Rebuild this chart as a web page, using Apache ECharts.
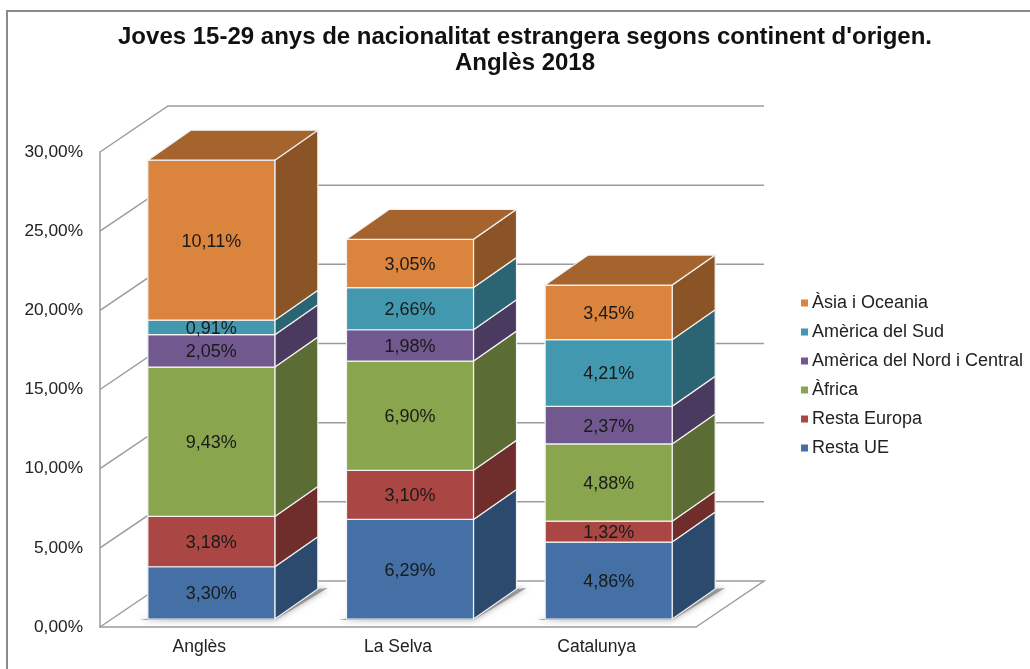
<!DOCTYPE html>
<html><head><meta charset="utf-8">
<style>html,body{margin:0;padding:0;background:#fff}#c{width:1030px;height:669px}</style>
<script src="https://cdn.jsdelivr.net/npm/echarts@6/dist/echarts.min.js"></script>
</head><body><div id="c"></div>
<script>
const categories = ['Anglès', 'La Selva', 'Catalunya'];
const seriesNames = ['Resta UE', 'Resta Europa', 'Àfrica', 'Amèrica del Nord i Central', 'Amèrica del Sud', 'Àsia i Oceania'];
const restaUE = [3.30, 6.29, 4.86];
const restaEuropa = [3.18, 3.10, 1.32];
const africa = [9.43, 6.90, 4.88];
const americaNord = [2.05, 1.98, 2.37];
const americaSud = [0.91, 2.66, 4.21];
const asiaOceania = [10.11, 3.05, 3.45];
const yTicks = [0, 5, 10, 15, 20, 25, 30];
const allValues = [restaUE, restaEuropa, africa, americaNord, americaSud, asiaOceania];

const frontColors = ['#4470A5', '#AA4643', '#89A54E', '#71588F', '#4198AF', '#DB843D'];
const sideColors = ['#2B4A6E', '#6F2E2C', '#5B6D34', '#4B3A5F', '#2B6574', '#8B5426'];
const topColor = '#A5632E';
const FONT = '"Liberation Sans", Arial, sans-serif';
const pct = v => v.toFixed(2).replace('.', ',') + '%';

// 3D projection constants (screen px)
const WALL_DX = 68, WALL_DY = -46;
const BAR_DX = 43, BAR_DY = -30;
const BAR_W = 127, BAR_SHIFT_X = 12, BAR_SHIFT_Y = -8;

function renderWall(params, api) {
  const cs = params.coordSys;
  const v = api.value(0);
  const y = api.coord([0, v])[1];
  const x0 = cs.x, x1 = cs.x + cs.width;
  const pts = [[x0, y], [x0 + WALL_DX, y + WALL_DY], [x1 + WALL_DX, y + WALL_DY]];
  if (v === 0) pts.push([x1, y]);
  return { type: 'polyline', shape: { points: pts }, style: { stroke: '#9C9C9C', lineWidth: 1.5, fill: null }, silent: true };
}

function renderShadow(params, api) {
  const i = api.value(0);
  const cx = api.coord([i, 0]);
  const x0 = cx[0] + BAR_SHIFT_X - BAR_W / 2, x1 = x0 + BAR_W, y0 = cx[1] + BAR_SHIFT_Y;
  return { type: 'polygon', shape: { points: [[x0 - 8, y0 + 1], [x1, y0 + 1], [x1 + BAR_DX + 10, y0 + BAR_DY - 1], [x1 + BAR_DX, y0 + BAR_DY]] },
    style: { fill: 'rgba(130,130,130,0.75)', shadowBlur: 6, shadowColor: 'rgba(110,110,110,0.8)' }, silent: true };
}

function makeRender(s) {
  return function (params, api) {
    const i = api.value(0), start = api.value(1), end = api.value(2);
    const cx = api.coord([i, 0])[0];
    const x0 = cx + BAR_SHIFT_X - BAR_W / 2, x1 = x0 + BAR_W;
    const yb = api.coord([i, start])[1] + BAR_SHIFT_Y;
    const yt = api.coord([i, end])[1] + BAR_SHIFT_Y;
    const edge = { stroke: '#F2F2F2', lineWidth: 1.2 };
    const children = [
      { type: 'polygon', shape: { points: [[x1, yb], [x1 + BAR_DX, yb + BAR_DY], [x1 + BAR_DX, yt + BAR_DY], [x1, yt]] },
        style: Object.assign({ fill: sideColors[s] }, edge) },
      { type: 'rect', shape: { x: x0, y: yt, width: BAR_W, height: yb - yt },
        style: Object.assign({ fill: frontColors[s] }, edge) }
    ];
    if (s === allValues.length - 1) {
      children.push({ type: 'polygon', shape: { points: [[x0, yt], [x1, yt], [x1 + BAR_DX, yt + BAR_DY], [x0 + BAR_DX, yt + BAR_DY]] },
        style: Object.assign({ fill: topColor }, edge) });
    }
    children.push({ type: 'text', x: (x0 + x1) / 2, y: (yt + yb) / 2 + 1.5,
      style: { text: pct(end - start), fill: '#1a1a1a', font: '18px ' + FONT, align: 'center', verticalAlign: 'middle' } });
    return { type: 'group', children };
  };
}

const barSeries = seriesNames.map((name, s) => ({
  name, type: 'custom', coordinateSystem: 'cartesian2d', z: 5 + s,
  itemStyle: { color: frontColors[s] },
  encode: { x: 0, y: [1, 2] },
  data: categories.map((c, i) => {
    let b = 0;
    for (let k = 0; k < s; k++) b += allValues[k][i];
    return [i, b, b + allValues[s][i]];
  }),
  renderItem: makeRender(s)
}));

const option = {
  animation: false,
  backgroundColor: '#fff',
  title: { text: "Joves 15-29 anys de nacionalitat estrangera segons continent d'origen.\nAnglès 2018",
    left: 520, top: 19, textAlign: 'center',
    textStyle: { fontFamily: FONT, fontWeight: 'bold', fontSize: 24, lineHeight: 26, color: '#111' } },
  legend: { orient: 'vertical', left: 796, top: 289, itemWidth: 7, itemHeight: 7, itemGap: 11, icon: 'rect',
    data: seriesNames.slice().reverse(),
    textStyle: { fontFamily: FONT, fontSize: 18, color: '#222', padding: [0, 0, 0, -1], height: 18, lineHeight: 18 } },
  grid: { left: 100, right: 334, top: 152, height: 475 },
  xAxis: { type: 'category', data: categories,
    axisLine: { lineStyle: { color: '#9C9C9C', width: 1.5 } }, axisTick: { show: false },
    axisLabel: { margin: 11, fontFamily: FONT, fontSize: 17.5, color: '#222' } },
  yAxis: { type: 'value', min: 0, max: 30, interval: 5,
    axisLine: { show: true, lineStyle: { color: '#9C9C9C', width: 1.5 } }, axisTick: { show: false }, splitLine: { show: false },
    axisLabel: { margin: 17, fontFamily: FONT, fontSize: 17.3, color: '#222', formatter: v => pct(v) } },
  graphic: [{ type: 'polyline', silent: true, shape: { points: [[7, 669], [7, 11], [1030, 11]] }, style: { stroke: '#8a8a8a', lineWidth: 2, fill: null } }],
  series: [
    { name: '_wall', type: 'custom', z: 1, silent: true, encode: { y: 0 }, data: yTicks.map(v => [v]), renderItem: renderWall },
    { name: '_shadow', type: 'custom', z: 2, silent: true, encode: { x: 0 }, data: categories.map((c, i) => [i]), renderItem: renderShadow }
  ].concat(barSeries)
};
echarts.init(document.getElementById('c'), null, { renderer: 'canvas' }).setOption(option);
</script></body></html>
